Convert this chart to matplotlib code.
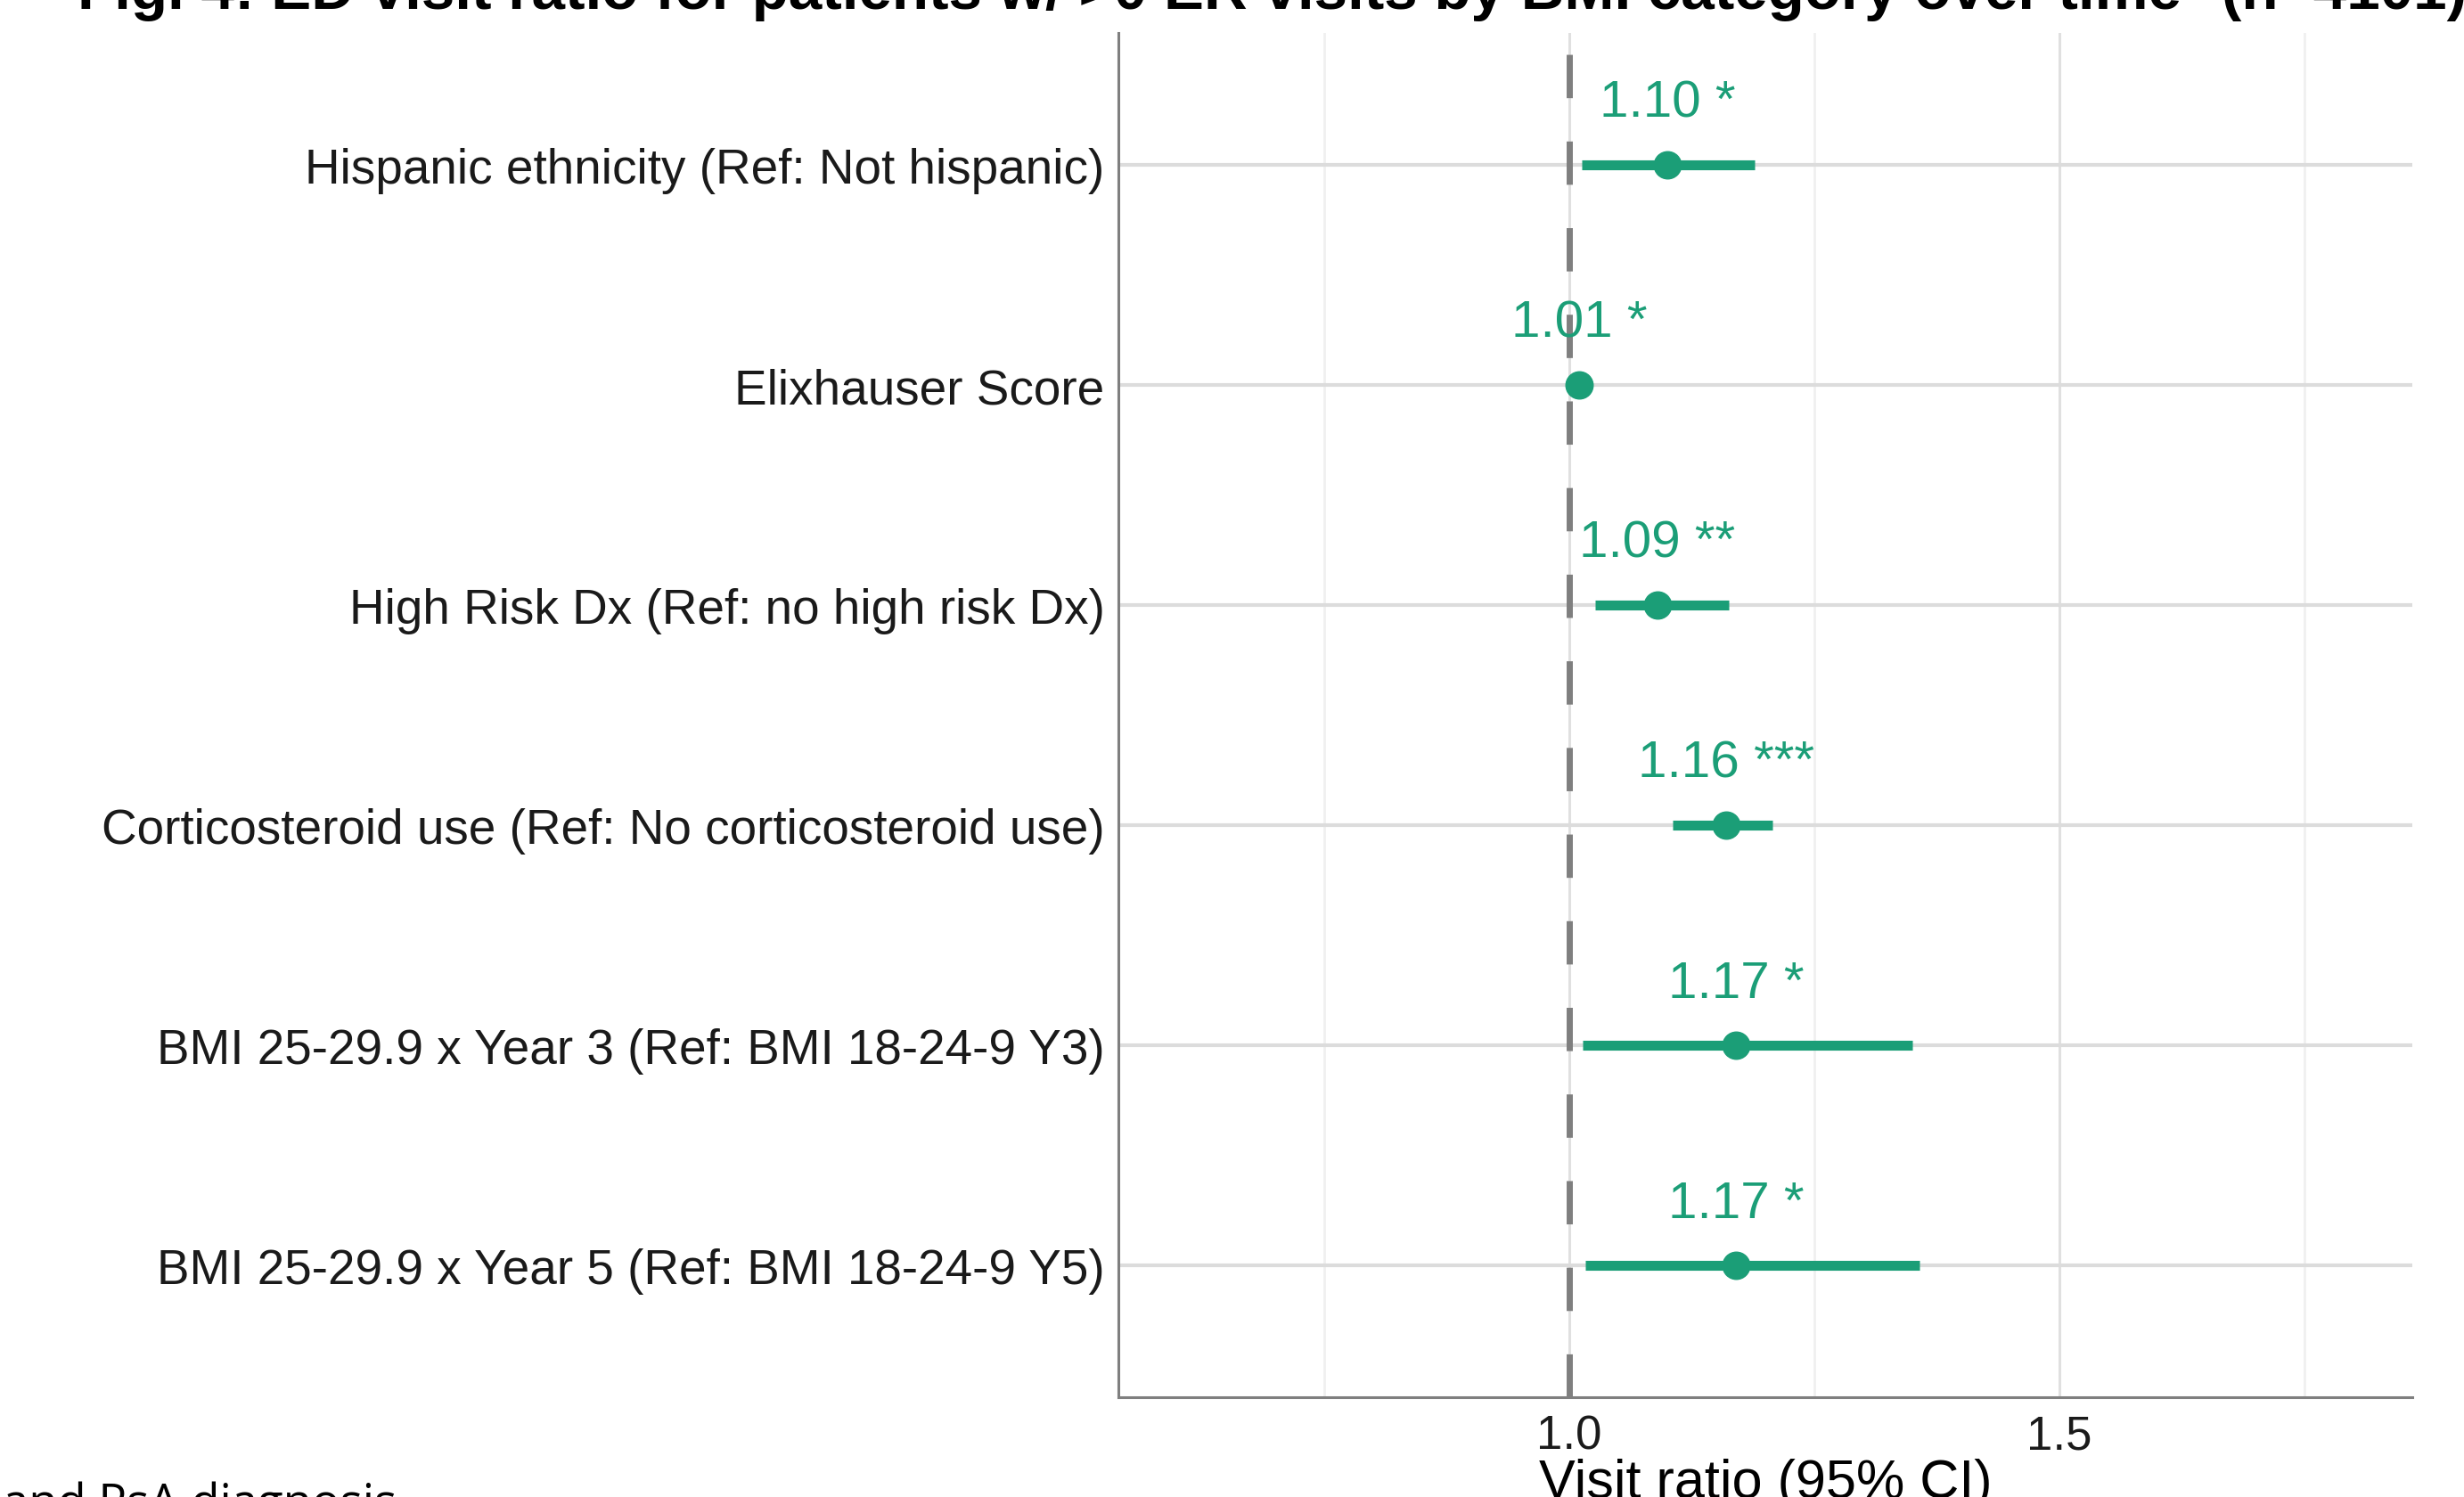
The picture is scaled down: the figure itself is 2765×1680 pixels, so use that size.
import matplotlib.pyplot as plt
from matplotlib.ticker import FixedLocator

# model output: visit ratios with 95% CI
terms = [
    "Hispanic ethnicity (Ref: Not hispanic)",
    "Elixhauser Score",
    "High Risk Dx (Ref: no high risk Dx)",
    "Corticosteroid use (Ref: No corticosteroid use)",
    "BMI 25-29.9 x Year 3 (Ref: BMI 18-24-9 Y3)",
    "BMI 25-29.9 x Year 5 (Ref: BMI 18-24-9 Y5)",
]
ratio = [1.10, 1.01, 1.09, 1.16, 1.17, 1.17]
ci_low = [1.013, 1.003, 1.026, 1.105, 1.014, 1.016]
ci_high = [1.189, 1.020, 1.163, 1.207, 1.350, 1.357]
stars = ["*", "*", "**", "***", "*", "*"]

green = "#1b9e77"
plt.rcParams['font.family'] = ['Liberation Sans', 'DejaVu Sans']

fig = plt.figure(figsize=(27.65, 16.81), dpi=100)
ax = fig.add_axes([1255 / 2765, 112 / 1681, (2707 - 1255) / 2765, (1643 - 112) / 1681])

ypos = list(range(len(terms), 0, -1))

ax.axvline(1.0, color="#7f7f7f", lw=5, dashes=(7, 7), zorder=2)
ax.hlines(ypos, ci_low, ci_high, color=green, lw=8, zorder=3)
ax.plot(ratio, ypos, "o", color=green, ms=22, zorder=4)
for y, r, s in zip(ypos, ratio, stars):
    ax.text(r, y + 0.22, f"{r:.2f} {s}", color=green, fontsize=42,
            ha="center", va="baseline", zorder=5)

ax.set_xlim(0.54, 1.86)
ax.set_ylim(0.4, len(terms) + 0.6)
ax.xaxis.set_major_locator(FixedLocator([1.0, 1.5]))
ax.xaxis.set_minor_locator(FixedLocator([0.75, 1.25, 1.75]))
ax.set_xticklabels(["1.0", "1.5"])
ax.set_yticks(ypos)
ax.set_yticklabels(terms)

ax.grid(axis="x", which="major", color="#e0e0e0", lw=2.2, zorder=0)
ax.grid(axis="x", which="minor", color="#f0f0f0", lw=2.0, zorder=0)
ax.grid(axis="y", which="major", color="#dcdcdc", lw=3.0, zorder=0)
ax.set_axisbelow(True)

ax.tick_params(axis="both", which="both", length=0)
ax.tick_params(axis="y", labelsize=39.5, pad=11, labelcolor="#1a1a1a")
ax.tick_params(axis="x", labelsize=38, pad=13, labelcolor="#1a1a1a")
ax.set_xlabel("Visit ratio (95% CI)", fontsize=44, labelpad=0, color="#000000")

for side in ["top", "right"]:
    ax.spines[side].set_visible(False)
for side in ["left", "bottom"]:
    ax.spines[side].set_color("#7f7f7f")
    ax.spines[side].set_linewidth(2.2)

fig.text(87 / 2765, 1 - 10 / 1681,
         "Fig. 4: ED visit ratio for patients w/ >0 ER visits by BMI category over time* (n=4101)",
         fontsize=48.5, fontweight="bold", ha="left", va="baseline")
fig.text(445 / 2765, -22 / 1681, "and PsA diagnosis", family="Open Sans",
         fontsize=38, ha="right", va="baseline")

fig.savefig("out.png", dpi=100)
